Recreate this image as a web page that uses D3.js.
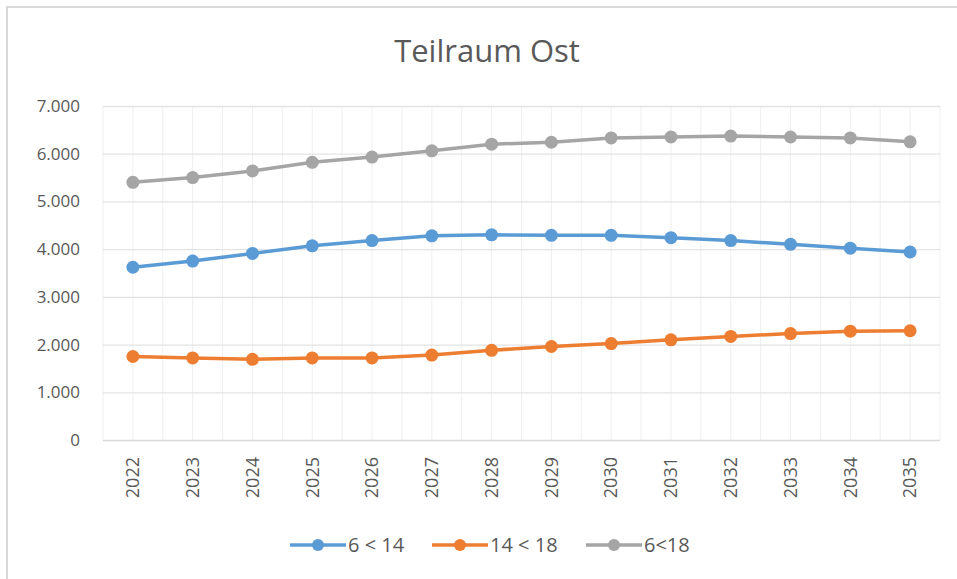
<!DOCTYPE html>
<html lang="de">
<head>
    <meta charset="UTF-8">
    <title>Teilraum Ost</title>
    <style>
        body{ margin:0; background:#fff;}
        text{ font-family:"Open Sans", "Noto Sans", sans-serif; fill:#595959;}
    </style>
</head>
<body>
<script src="https://cdn.jsdelivr.net/npm/d3@7"></script>
<script>

var years = ["2022","2023","2024","2025","2026","2027","2028","2029","2030","2031","2032","2033","2034","2035"];
var kids6to14  = [3620, 3750, 3910, 4070, 4180, 4280, 4300, 4290, 4290, 4240, 4180, 4100, 4020, 3940];
var kids14to18 = [1750, 1720, 1690, 1720, 1720, 1780, 1880, 1960, 2020, 2100, 2170, 2230, 2280, 2290];
var kids6to18  = [5400, 5500, 5640, 5820, 5930, 6060, 6200, 6240, 6330, 6350, 6370, 6350, 6330, 6250];
var yTicks = [0, 1000, 2000, 3000, 4000, 5000, 6000, 7000];

var series = [
    { name:"6 < 14",  values:kids6to14,  color:"#5b9bd5" },
    { name:"14 < 18", values:kids14to18, color:"#ed7d31" },
    { name:"6<18",    values:kids6to18,  color:"#a5a5a5" }
];

var W = 957, H = 579;
var plot = { left:103, right:940, top:106, bottom:440 };

var svg = d3.select("body").append("svg")
        .attr("width", W)
        .attr("height", H);

// chart frame (only top/left edge visible in the crop)
svg.append("path")
        .attr("d", "M7," + H + " V7 H" + W)
        .attr("fill", "none")
        .attr("stroke", "#d9d9d9")
        .attr("stroke-width", 2);

svg.append("text")
        .attr("x", 487).attr("y", 62)
        .attr("text-anchor", "middle")
        .style("font-size", "31px")
        .text("Teilraum Ost");

var x = d3.scaleBand().domain(years).range([plot.left, plot.right]);
var y = d3.scaleLinear().domain([0, 7000]).range([plot.bottom, plot.top]);
var fmt = d3.formatLocale({ decimal:",", thousands:".", grouping:[3], currency:["","€"] }).format(",d");

// vertical grid: band edges and band centres
var vLines = [];
years.forEach(function(d){
    vLines.push(x(d));
    vLines.push(x(d) + x.bandwidth()/2);
});
vLines.push(plot.right);

svg.append("g").selectAll("line")
        .data(vLines)
        .enter().append("line")
        .attr("x1", function(d){ return d; })
        .attr("x2", function(d){ return d; })
        .attr("y1", plot.top).attr("y2", plot.bottom)
        .attr("stroke", "#efefef")
        .attr("stroke-width", 1);

// horizontal grid + y labels
var yAxis = svg.append("g")
        .attr("transform", "translate(" + plot.left + ",0)")
        .call(d3.axisLeft(y).tickValues(yTicks).tickFormat(fmt)
                .tickSize(-(plot.right - plot.left)).tickPadding(23));
yAxis.select(".domain").remove();
yAxis.selectAll(".tick line").attr("stroke", function(d){ return d === 0 ? "#d9d9d9" : "#e3e3e3"; })
        .attr("stroke-width", 1.3);
yAxis.selectAll(".tick text").style("font-size", "17px").attr("fill", "#595959");

// x labels, rotated
var xAxis = svg.append("g")
        .attr("transform", "translate(0," + plot.bottom + ")")
        .call(d3.axisBottom(x).tickSize(0));
xAxis.select(".domain").remove();
xAxis.selectAll(".tick text")
        .style("font-size", "18px")
        .attr("fill", "#595959")
        .attr("text-anchor", "end")
        .attr("transform", "rotate(-90)")
        .attr("x", -17).attr("y", 0).attr("dy", "0.35em");

var line = d3.line()
        .x(function(d, i){ return x(years[i]) + x.bandwidth()/2; })
        .y(function(d){ return y(d); });

series.forEach(function(s){
    var g = svg.append("g");
    g.append("path")
            .attr("d", line(s.values))
            .attr("fill", "none")
            .attr("stroke", s.color)
            .attr("stroke-width", 3.5)
            .attr("stroke-linejoin", "round");
    g.selectAll("circle")
            .data(s.values)
            .enter().append("circle")
            .attr("cx", function(d, i){ return x(years[i]) + x.bandwidth()/2; })
            .attr("cy", function(d){ return y(d); })
            .attr("r", 6.5)
            .attr("fill", s.color);
});

// legend
var legendX = [290, 432, 586];
var legend = svg.append("g").attr("transform", "translate(0,545)");
series.forEach(function(s, i){
    var lg = legend.append("g").attr("transform", "translate(" + legendX[i] + ",0)");
    lg.append("line").attr("x1", 0).attr("x2", 56).attr("y1", 0).attr("y2", 0)
            .attr("stroke", s.color).attr("stroke-width", 3.5);
    lg.append("circle").attr("cx", 28).attr("cy", 0).attr("r", 6).attr("fill", s.color);
    lg.append("text").attr("x", 58).attr("y", 0).attr("dy", "0.35em")
            .style("font-size", "20px")
            .text(s.name);
});

</script>
</body>
</html>
